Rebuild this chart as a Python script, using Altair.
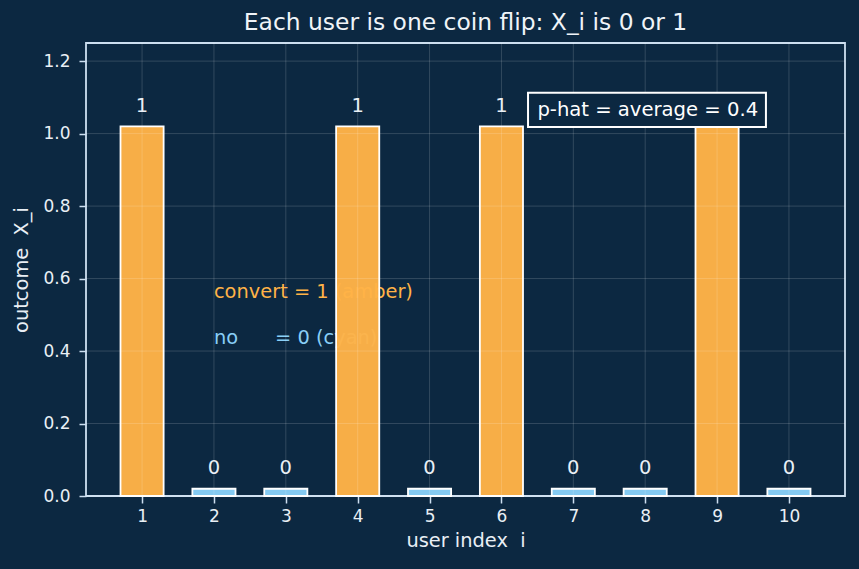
import altair as alt
import pandas as pd

# ---- data ----
users = [1, 2, 3, 4, 5, 6, 7, 8, 9, 10]
outcomes = [1, 0, 0, 1, 0, 1, 0, 0, 1, 0]
bar_heights = [1.02, 0.02, 0.02, 1.02, 0.02, 1.02, 0.02, 0.02, 1.02, 0.02]
x_ticks = [1, 2, 3, 4, 5, 6, 7, 8, 9, 10]
y_ticks = [0.0, 0.2, 0.4, 0.6, 0.8, 1.0, 1.2]
legend_lines = ["convert = 1 (amber)", "no\u00a0\u00a0\u00a0\u00a0\u00a0\u00a0= 0 (cyan)"]
legend_x = [2.0, 2.0]
legend_y = [0.545, 0.42]
legend_kind = ["amber", "cyan"]
phat_text = ["p-hat = average = 0.4"]
phat_x = [6.50]
phat_y = [1.049]
box_x = [6.37]
box_x2 = [9.68]
box_y = [1.018]
box_y2 = [1.113]

BG = "#0c2841"
AMBER = "#ffb347"
CYAN = "#89cff7"
FG = "#e9eff5"
SPINE = "#cddff0"
FONT = "DejaVu Sans"

bars_df = pd.DataFrame({"user": users, "outcome": outcomes, "h": bar_heights})
bars_df["kind"] = ["amber" if o == 1 else "cyan" for o in outcomes]
bars_df["lbl"] = [str(o) for o in outcomes]
legend_df = pd.DataFrame({"x": legend_x, "y": legend_y, "t": legend_lines, "kind": legend_kind})
xg_df = pd.DataFrame({"t": x_ticks})
yg_df = pd.DataFrame({"t": y_ticks})
phat_df = pd.DataFrame({"x": phat_x, "y": phat_y, "t": phat_text})
box_df = pd.DataFrame({"x": box_x, "x2": box_x2, "y": box_y, "y2": box_y2})

xscale = alt.Scale(domain=[0.22, 10.78], nice=False, zero=False)
yscale = alt.Scale(domain=[0, 1.25], nice=False)
color_scale = alt.Scale(domain=["amber", "cyan"], range=[AMBER, CYAN])

xaxis = alt.Axis(values=x_ticks, format="d", title="user\u00a0index\u00a0\u00a0i", grid=False,
                 domain=False, tickSize=7, tickWidth=1.5, tickColor=SPINE,
                 labelPadding=5, titlePadding=7)
yaxis = alt.Axis(values=y_ticks, format=".1f", title="outcome\u00a0\u00a0X_i", grid=False,
                 domain=False, tickSize=7, tickWidth=1.5, tickColor=SPINE,
                 labelPadding=9, titlePadding=11)

legend_txt = alt.Chart(legend_df).mark_text(
    align="left", baseline="alphabetic", fontSize=19.4, font=FONT
).encode(
    x=alt.X("x:Q", scale=xscale, axis=xaxis),
    y=alt.Y("y:Q", scale=yscale, axis=yaxis),
    text="t:N",
    color=alt.Color("kind:N", scale=color_scale, legend=None),
)

bars = alt.Chart(bars_df).mark_bar(
    stroke="white", strokeWidth=1.8, fillOpacity=0.97
).transform_calculate(
    lo="datum.user - 0.3", hi="datum.user + 0.3"
).encode(
    x=alt.X("lo:Q", scale=xscale, axis=xaxis),
    x2="hi:Q",
    y=alt.Y("h:Q", scale=yscale, axis=yaxis),
    y2=alt.datum(0),
    fill=alt.Fill("kind:N", scale=color_scale, legend=None),
)

xgrid = alt.Chart(xg_df).mark_rule(color="white", opacity=0.2, strokeWidth=0.8).encode(
    x=alt.X("t:Q", scale=xscale, axis=xaxis)
)
ygrid = alt.Chart(yg_df).mark_rule(color="white", opacity=0.2, strokeWidth=0.8).encode(
    y=alt.Y("t:Q", scale=yscale, axis=yaxis)
)

bar_labels = alt.Chart(bars_df).mark_text(
    align="center", baseline="alphabetic", fontSize=19.5, font=FONT, color=FG
).transform_calculate(
    ly="datum.h + 0.04"
).encode(
    x=alt.X("user:Q", scale=xscale, axis=xaxis),
    y=alt.Y("ly:Q", scale=yscale, axis=yaxis),
    text="lbl:N",
)

box = alt.Chart(box_df).mark_rect(fill=BG, stroke="white", strokeWidth=2).encode(
    x=alt.X("x:Q", scale=xscale, axis=xaxis),
    x2="x2:Q",
    y=alt.Y("y:Q", scale=yscale, axis=yaxis),
    y2="y2:Q",
)

box_txt = alt.Chart(phat_df).mark_text(
    align="left", baseline="alphabetic", fontSize=19.6, font=FONT, color="white"
).encode(
    x=alt.X("x:Q", scale=xscale, axis=xaxis),
    y=alt.Y("y:Q", scale=yscale, axis=yaxis),
    text="t:N",
)

chart = alt.layer(legend_txt, bars, xgrid, ygrid, bar_labels, box, box_txt).resolve_scale(
    color="independent", fill="independent"
).properties(
    width=759,
    height=453,
    background=BG,
    padding={"left": 86, "top": 43, "right": 14, "bottom": 73},
    autosize=alt.AutoSizeParams(type="none"),
    title=alt.Title("Each user is one coin flip: X_i is 0 or 1", fontSize=23.4, font=FONT,
                    color="#f0f4f8", fontWeight="normal", offset=7),
).configure_view(
    stroke=SPINE, strokeWidth=1.8
).configure_axis(
    labelFont=FONT, titleFont=FONT, labelColor=FG, titleColor=FG,
    labelFontSize=17, titleFontSize=19.4, titleFontWeight="normal"
)

chart.save("out.html", embed_options={"renderer": "svg", "actions": False})
